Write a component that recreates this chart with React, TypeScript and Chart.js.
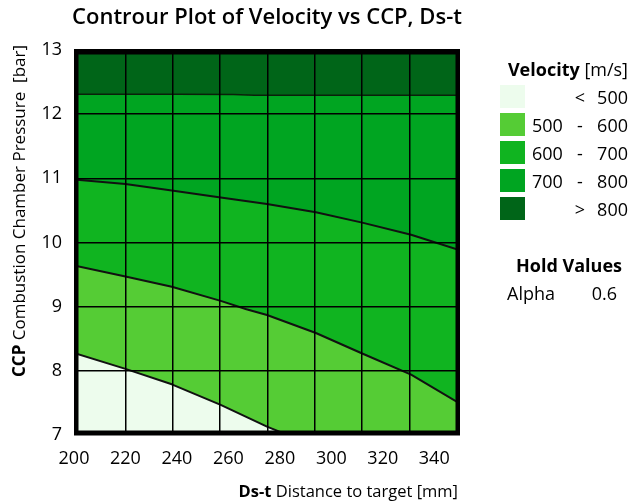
import React, { useEffect, useRef } from 'react';
import { Chart, registerables } from 'chart.js';

Chart.register(...registerables);

const FONT = '"Open Sans", "Noto Sans", "DejaVu Sans", sans-serif';

// ---- texts ----
const chartTitle = 'Controur Plot of Velocity vs CCP, Ds-t';
const xTitleBold = 'Ds-t';
const xTitleRest = ' Distance to target [mm]';
const yTitleBold = 'CCP';
const yTitleRest = ' Combustion Chamber Pressure  [bar]';

// ---- axes ----
const xMin = 200;
const xMax = 350;
const xTickValues = [200, 220, 240, 260, 280, 300, 320, 340];
const yMin = 7;
const yMax = 13;
const yTickValues = [7, 8, 9, 10, 11, 12, 13];
// vertical grid lines (8 columns) in Ds-t units
const gridX = [220, 238.4, 256.8, 275.2, 293.6, 312, 330.4];

// ---- contour boundaries (Ds-t [mm] -> CCP [bar]) ----
const contour500X = [200, 220, 238, 257, 275, 283];
const contour500Y = [8.28, 8.03, 7.79, 7.47, 7.13, 7.0];
const contour600X = [200, 220, 238, 257, 267, 275, 294, 312, 331, 350];
const contour600Y = [9.64, 9.47, 9.31, 9.09, 8.96, 8.87, 8.59, 8.27, 7.94, 7.49];
const contour700X = [200, 220, 238, 257, 275, 294, 312, 331, 350];
const contour700Y = [10.98, 10.91, 10.81, 10.7, 10.6, 10.47, 10.31, 10.12, 9.88];
const contour800X = [200, 240, 262, 270, 350];
const contour800Y = [12.31, 12.31, 12.305, 12.295, 12.295];

// ---- legend ----
const legendTitleBold = 'Velocity';
const legendTitleUnit = '[m/s]';
const bandLow = ['', '500', '600', '700', ''];
const bandSep = ['<', '-', '-', '-', '>'];
const bandHigh = ['500', '600', '700', '800', '800'];
const bandColors = ['#EDFCED', '#55CC35', '#10B420', '#00A521', '#006518'];
const holdTitle = 'Hold Values';
const holdNames = ['Alpha'];
const holdValues = ['0.6'];

const toPoints = (xs: number[], ys: number[]) => xs.map((x, i) => ({ x, y: ys[i] }));

const decorPlugin = {
  id: 'decor',
  afterDraw(chart: any) {
    const { ctx, chartArea: a } = chart;
    ctx.save();
    // frame
    const fw = 4.5;
    ctx.strokeStyle = '#000';
    ctx.lineWidth = fw;
    ctx.strokeRect(a.left + fw / 2, a.top + fw / 2, a.right - a.left - fw, a.bottom - a.top - fw);

    ctx.fillStyle = '#000';
    // title
    ctx.font = `600 22px ${FONT}`;
    ctx.textAlign = 'center';
    ctx.textBaseline = 'alphabetic';
    ctx.fillText(chartTitle, (a.left + a.right) / 2, 24);

    // x title (right aligned to the plot)
    const xs = 16.5;
    ctx.textAlign = 'left';
    ctx.font = `bold ${xs}px ${FONT}`;
    const xb = ctx.measureText(xTitleBold).width;
    ctx.font = `${xs}px ${FONT}`;
    const xr = ctx.measureText(xTitleRest).width;
    const xStart = 458 - xb - xr;
    ctx.font = `bold ${xs}px ${FONT}`;
    ctx.fillText(xTitleBold, xStart, 496.5);
    ctx.font = `${xs}px ${FONT}`;
    ctx.fillText(xTitleRest, xStart + xb, 496.5);

    // y title (rotated)
    ctx.translate(24.5, 377);
    ctx.rotate(-Math.PI / 2);
    ctx.font = `bold 17px ${FONT}`;
    const yb = ctx.measureText(yTitleBold).width;
    ctx.fillText(yTitleBold, 0, 0);
    ctx.font = `17px ${FONT}`;
    ctx.fillText(yTitleRest, yb, 0);
    ctx.restore();
  },
};

export default function App() {
  const canvasRef = useRef<HTMLCanvasElement | null>(null);

  useEffect(() => {
    if (!canvasRef.current) return;
    const lineColor = '#111';
    const chart = new Chart(canvasRef.current, {
      type: 'line',
      data: {
        datasets: [
          {
            label: '> 800',
            data: toPoints(contour800X, contour800Y),
            fill: 'end',
            backgroundColor: bandColors[4],
            borderWidth: 0,
            pointRadius: 0,
            order: 5,
          },
          {
            label: '700 - 800',
            data: toPoints(contour800X, contour800Y),
            fill: 'start',
            backgroundColor: bandColors[3],
            borderColor: '#0a200a',
            borderWidth: 1.5,
            pointRadius: 0,
            order: 4,
          },
          {
            label: '600 - 700',
            data: toPoints(contour700X, contour700Y),
            fill: 'start',
            backgroundColor: bandColors[2],
            borderColor: lineColor,
            borderWidth: 2,
            pointRadius: 0,
            order: 3,
          },
          {
            label: '500 - 600',
            data: toPoints(contour600X, contour600Y),
            fill: 'start',
            backgroundColor: bandColors[1],
            borderColor: lineColor,
            borderWidth: 2,
            pointRadius: 0,
            order: 2,
          },
          {
            label: '< 500',
            data: toPoints(contour500X, contour500Y),
            fill: 'start',
            backgroundColor: bandColors[0],
            borderColor: lineColor,
            borderWidth: 2,
            pointRadius: 0,
            order: 1,
          },
        ],
      },
      options: {
        responsive: false,
        devicePixelRatio: 1,
        animation: false,
        events: [],
        layout: { padding: { left: 0, right: 181, top: 50, bottom: 0 } },
        elements: { line: { tension: 0, borderJoinStyle: 'round', borderCapStyle: 'round' } },
        plugins: {
          legend: { display: false },
          title: { display: false },
          tooltip: { enabled: false },
        },
        scales: {
          x: {
            type: 'linear',
            position: 'bottom',
            min: xMin,
            max: xMax,
            afterBuildTicks: (axis: any) => {
              axis.ticks = xTickValues.map((v) => ({ value: v }));
            },
            afterFit: (s: any) => {
              s.height = 68;
            },
            grid: { display: false, drawTicks: false },
            border: { display: false },
            ticks: {
              color: '#000',
              font: { family: FONT, size: 18 },
              padding: 13,
              maxRotation: 0,
              autoSkip: false,
            },
          },
          xg: {
            type: 'linear',
            position: 'top',
            min: xMin,
            max: xMax,
            afterBuildTicks: (axis: any) => {
              axis.ticks = gridX.map((v) => ({ value: v }));
            },
            afterFit: (s: any) => {
              s.height = 0;
            },
            grid: { display: true, color: '#000', lineWidth: 1.5, drawTicks: false, z: 1 },
            border: { display: false },
            ticks: { display: false },
          },
          y: {
            type: 'linear',
            min: yMin,
            max: yMax,
            afterBuildTicks: (axis: any) => {
              axis.ticks = yTickValues.map((v) => ({ value: v }));
            },
            afterFit: (s: any) => {
              s.width = 74;
            },
            grid: { display: true, color: '#000', lineWidth: 1.5, drawTicks: false, z: 1 },
            border: { display: false },
            ticks: {
              color: '#000',
              font: { family: FONT, size: 18 },
              padding: 12,
            },
          },
        },
      },
      plugins: [decorPlugin],
    } as any);
    return () => chart.destroy();
  }, []);

  const rowCenters = [96.5, 124.5, 152.5, 180.5, 208.5];

  const txt: React.CSSProperties = {
    position: 'absolute',
    height: 24,
    lineHeight: '24px',
    fontSize: 18,
    whiteSpace: 'nowrap',
    color: '#000',
  };

  return (
    <div
      style={{
        position: 'fixed',
        left: 0,
        top: 0,
        width: 641,
        height: 503,
        background: '#fff',
        fontFamily: FONT,
        overflow: 'hidden',
      }}
    >
      <canvas ref={canvasRef} width={641} height={503} style={{ display: 'block' }} />
      <div style={{ ...txt, top: 69 - 12, right: 641 - 628 }}>
        <span style={{ fontWeight: 700 }}>{legendTitleBold}</span>{' '}
        <span style={{ fontWeight: 400 }}>{legendTitleUnit}</span>
      </div>
      {bandColors.map((c, i) => (
        <React.Fragment key={i}>
          <div
            style={{
              position: 'absolute',
              left: 500,
              top: rowCenters[i] - 11.5,
              width: 25,
              height: 23,
              background: c,
            }}
          />
          {bandLow[i] && <div style={{ ...txt, left: 532, top: rowCenters[i] - 12 }}>{bandLow[i]}</div>}
          <div style={{ ...txt, left: 560, width: 40, textAlign: 'center', top: rowCenters[i] - 12 }}>
            {bandSep[i]}
          </div>
          <div style={{ ...txt, right: 641 - 628, top: rowCenters[i] - 12 }}>{bandHigh[i]}</div>
        </React.Fragment>
      ))}
      <div style={{ ...txt, left: 500, width: 138, textAlign: 'center', top: 265 - 12, fontWeight: 700 }}>
        {holdTitle}
      </div>
      {holdNames.map((n, i) => (
        <React.Fragment key={n}>
          <div style={{ ...txt, left: 507, top: 293 - 12 + i * 28 }}>{n}</div>
          <div style={{ ...txt, right: 641 - 617, top: 293 - 12 + i * 28 }}>{holdValues[i]}</div>
        </React.Fragment>
      ))}
    </div>
  );
}
